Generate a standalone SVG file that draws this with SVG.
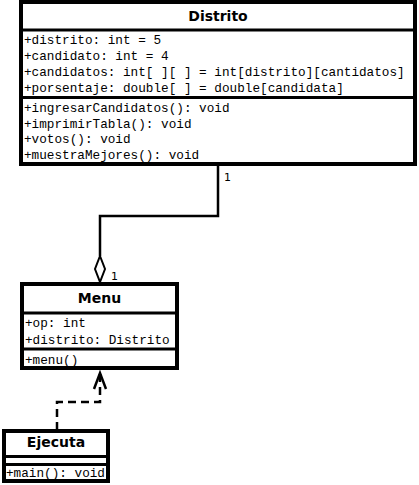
<svg xmlns="http://www.w3.org/2000/svg" width="419" height="485" viewBox="0 0 419 485">
<style>
.box{fill:#fff;stroke:#000;stroke-width:4}
.sep{stroke:#000;stroke-width:3}
.title{font-family:"DejaVu Sans",sans-serif;font-weight:bold;font-size:14px;text-anchor:middle;fill:#000}
.mem{font-family:"Liberation Mono","Courier New",monospace;font-size:12.7px;fill:#000}
.lbl{font-family:"DejaVu Sans",sans-serif;font-size:11px;fill:#000}
.line{fill:none;stroke:#000;stroke-width:2.5}
</style>
<g id="connectors">
  <polyline class="line" points="218,165 218,216 100,216 100,256"/>
  <polygon points="100,256 105,269 100,282 95,269" fill="#fff" stroke="#000" stroke-width="2"/>
  <text class="lbl" x="224" y="181">1</text>
  <text class="lbl" x="111" y="280">1</text>
  <polyline class="line" points="100,374 100,402 57,402 57,429" stroke-dasharray="8,5"/>
  <polyline class="line" points="94,389 100,373 106,389"/>
</g>
<g id="Distrito">
  <rect class="box" x="21" y="2" width="394" height="162"/>
  <line class="sep" x1="21" y1="30" x2="415" y2="30"/>
  <line class="sep" x1="21" y1="97.5" x2="415" y2="97.5"/>
  <text class="title" x="218" y="21">Distrito</text>
  <text class="mem" x="24" y="44">+distrito: int = 5</text>
  <text class="mem" x="24" y="59.5">+candidato: int = 4</text>
  <text class="mem" x="24" y="76">+candidatos: int[ ][ ] = int[distrito][cantidatos]</text>
  <text class="mem" x="24" y="92">+porsentaje: double[ ] = double[candidata]</text>
  <text class="mem" x="24" y="112">+ingresarCandidatos(): void</text>
  <text class="mem" x="24" y="128">+imprimirTabla(): void</text>
  <text class="mem" x="24" y="143">+votos(): void</text>
  <text class="mem" x="24" y="159">+muestraMejores(): void</text>
</g>
<g id="Menu">
  <rect class="box" x="22" y="284" width="155" height="84"/>
  <line class="sep" x1="22" y1="313" x2="177" y2="313"/>
  <line class="sep" x1="22" y1="349" x2="177" y2="349"/>
  <text class="title" x="99.5" y="303">Menu</text>
  <text class="mem" x="25" y="327">+op: int</text>
  <text class="mem" x="25" y="344">+distrito: Distrito</text>
  <text class="mem" x="25" y="364">+menu()</text>
</g>
<g id="Ejecuta">
  <rect class="box" x="4" y="431" width="104" height="50"/>
  <line class="sep" x1="4" y1="456.5" x2="108" y2="456.5"/>
  <line class="sep" x1="4" y1="464.5" x2="108" y2="464.5"/>
  <text class="title" x="56" y="447">Ejecuta</text>
  <text class="mem" x="6" y="477">+main(): void</text>
</g>
</svg>
